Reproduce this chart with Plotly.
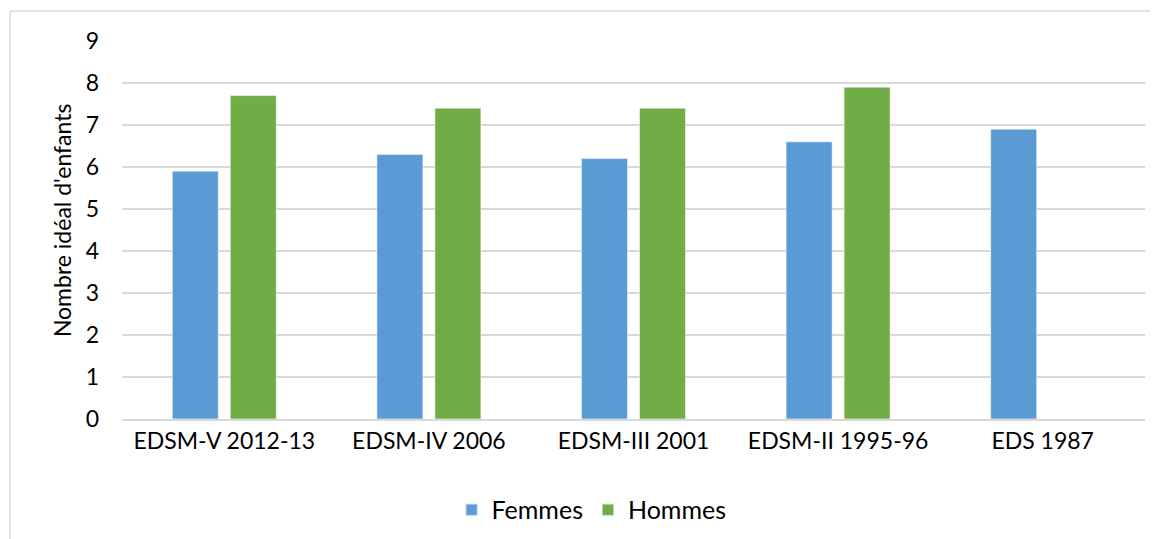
import plotly.graph_objects as go

# Nombre idéal d'enfants par enquête
enquetes = ["EDSM-V 2012-13", "EDSM-IV 2006", "EDSM-III 2001", "EDSM-II 1995-96", "EDS 1987"]
femmes = [5.9, 6.3, 6.2, 6.6, 6.9]
hommes = [7.7, 7.4, 7.4, 7.9, None]
y_ticks = [0, 1, 2, 3, 4, 5, 6, 7, 8, 9]

FONT = "Lato"

fig = go.Figure()
fig.add_trace(go.Bar(
    x=enquetes, y=femmes, name="Femmes",
    marker=dict(color="#5B9BD5", line=dict(width=1, color="rgba(255,255,255,0.5)"))))
fig.add_trace(go.Bar(
    x=enquetes, y=hommes, name="Hommes",
    marker=dict(color="#70AD47", line=dict(width=1, color="rgba(255,255,255,0.5)"))))

# cadre gris autour du graphique (coupé à droite et en bas)
fig.add_shape(type="line", xref="paper", yref="paper",
              x0=-0.1095, x1=1.03, y0=1.0794, y1=1.0794,
              line=dict(color="#D9D9D9", width=1.5))
fig.add_shape(type="line", xref="paper", yref="paper",
              x0=-0.1095, x1=-0.1095, y0=1.0794, y1=-0.35,
              line=dict(color="#D9D9D9", width=1.5))

# titre de l'axe vertical
fig.add_annotation(text="Nombre idéal d'enfants", textangle=-90,
                   xref="paper", yref="paper", x=-0.0587, y=0.526,
                   xanchor="center", yanchor="middle",
                   showarrow=False, font=dict(size=23))

# la page ajoute 8 px de marge : figure de 1150x531
fig.update_layout(
    width=1150, height=531,
    margin=dict(l=114, r=13, t=33, b=120, autoexpand=False),
    paper_bgcolor="white", plot_bgcolor="white",
    barmode="group", bargap=0.433, bargroupgap=0.207,
    font=dict(family=FONT, size=23, color="#000000"),
    showlegend=True,
    legend=dict(orientation="h", x=0.459, xanchor="center", y=-0.2407, yanchor="middle",
                font=dict(size=25), itemsizing="constant", traceorder="normal"),
)
fig.update_xaxes(
    automargin=False,
    showgrid=False, showline=True, linecolor="#D9D9D9", linewidth=2,
    ticks="", tickfont=dict(size=23))
fig.update_yaxes(
    automargin=False,
    range=[0, 9], tickvals=y_ticks, showgrid=True, gridcolor="#D9D9D9", gridwidth=2,
    zeroline=False, showline=False, ticks="", ticklabelstandoff=22,
    tickfont=dict(size=23))

fig.write_html("out.html")
